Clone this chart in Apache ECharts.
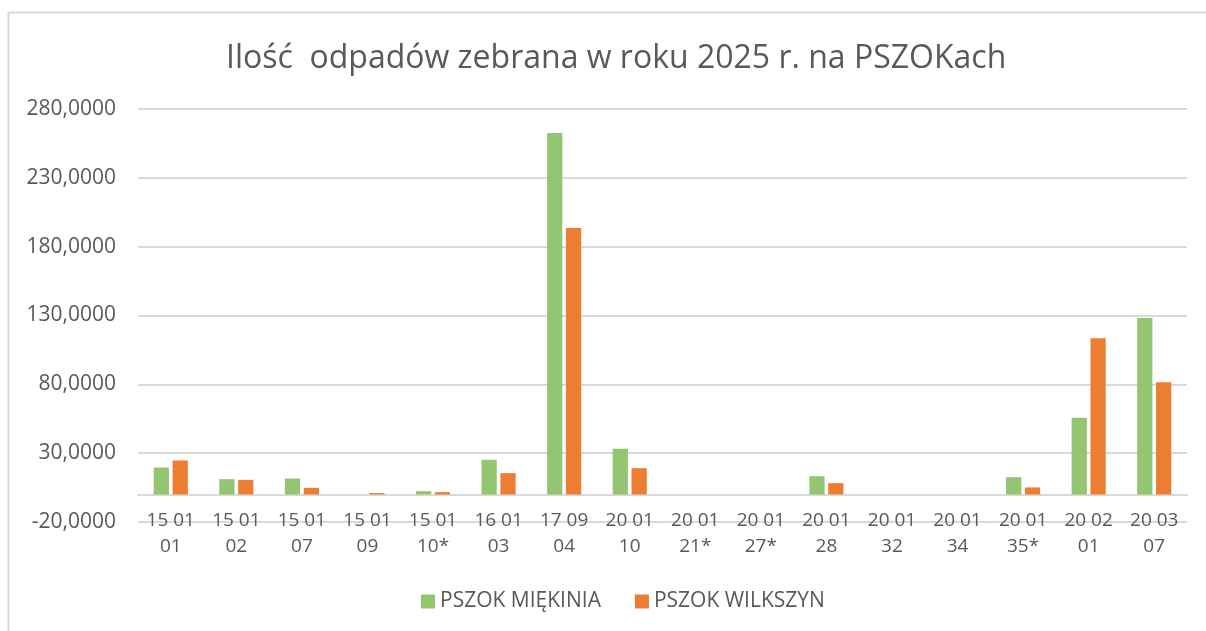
<!DOCTYPE html>
<html>
<head>
<meta charset="utf-8">
<script src="https://cdn.jsdelivr.net/npm/echarts@6/dist/echarts.min.js"></script>
<style>
html,body{margin:0;padding:0;background:#fff;}
#chart{width:1206px;height:631px;}
</style>
</head>
<body>
<div id="chart"></div>
<script>
const titleText = 'Ilość  odpadów zebrana w roku 2025 r. na PSZOKach';
const categories = ['15 01\n01', '15 01\n02', '15 01\n07', '15 01\n09', '15 01\n10*', '16 01\n03', '17 09\n04', '20 01\n10', '20 01\n21*', '20 01\n27*', '20 01\n28', '20 01\n32', '20 01\n34', '20 01\n35*', '20 02\n01', '20 03\n07'];
const seriesNames = ['PSZOK MIĘKINIA', 'PSZOK WILKSZYN'];
const miekinia = [19.6, 11.1, 11.6, 0, 2.4, 25.2, 262.6, 33.2, 0, 0, 13.3, 0, 0, 12.6, 55.7, 128.1];
const wilkszyn = [24.7, 10.6, 4.8, 1.0, 1.7, 15.5, 193.5, 19.1, 0, 0, 8.2, 0, 0, 5.1, 113.4, 81.6];
const yMin = -20, yMax = 280, yStep = 50;

const FONT = 'Open Sans';
const chart = echarts.init(document.getElementById('chart'), null, {renderer: 'canvas'});
chart.setOption({
  animation: false,
  backgroundColor: '#ffffff',
  textStyle: {fontFamily: FONT},
  graphic: [{
    type: 'rect', left: 6, top: 10, z: -10,
    shape: {width: 1300, height: 700},
    style: {fill: 'none', stroke: '#d9d9d9', lineWidth: 2}
  }],
  title: {
    text: titleText, left: 221, top: 38,
    textStyle: {fontFamily: FONT, fontSize: 32, fontWeight: 'normal', color: '#595959'}
  },
  legend: {
    bottom: 14, left: 416, itemWidth: 14, itemHeight: 14, itemGap: 34,
    icon: 'rect',
    textStyle: {fontFamily: FONT, fontSize: 21, color: '#595959'}
  },
  grid: {left: 138, right: 19, top: 109, bottom: 109, containLabel: false},
  xAxis: {
    type: 'category', data: categories,
    axisLine: {show: true, onZero: true, lineStyle: {color: '#d9d9d9', width: 2}},
    axisTick: {show: false},
    axisLabel: {margin: -14, fontFamily: FONT, fontSize: 19, color: '#595959', lineHeight: 26, interval: 0}
  },
  yAxis: {
    type: 'value', min: yMin, max: yMax, interval: yStep,
    axisLine: {show: false}, axisTick: {show: false},
    splitLine: {lineStyle: {color: '#d9d9d9', width: 2}},
    axisLabel: {margin: 22, fontFamily: FONT, fontSize: 21, color: '#595959',
      formatter: v => v.toFixed(4).replace('.', ',')}
  },
  series: [
    {name: seriesNames[0], type: 'bar', data: miekinia, itemStyle: {color: '#94c571'},
     barGap: '24%', barCategoryGap: '48%'},
    {name: seriesNames[1], type: 'bar', data: wilkszyn, itemStyle: {color: '#ed7d31'},
     barGap: '24%', barCategoryGap: '48%'}
  ]
});
</script>
</body>
</html>
